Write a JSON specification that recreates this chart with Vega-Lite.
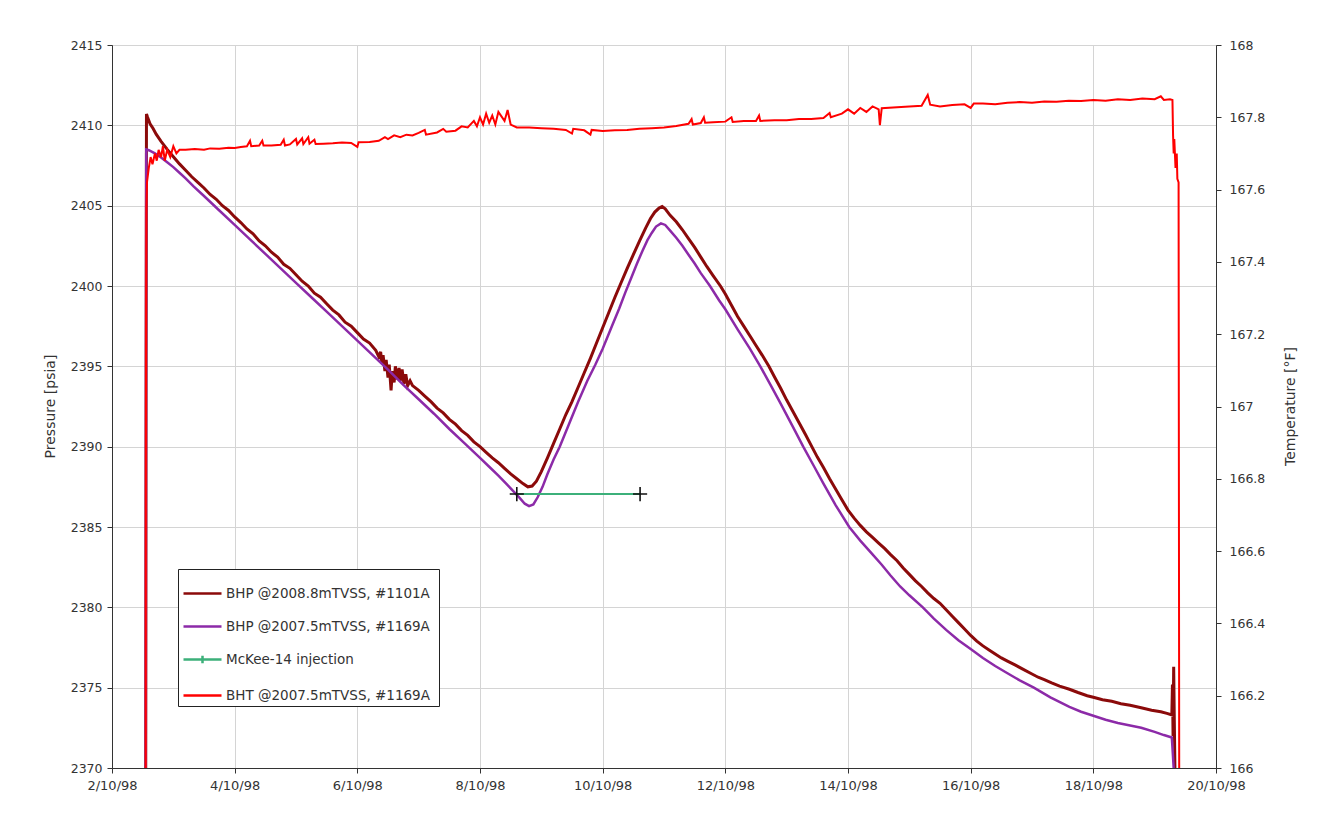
{
  "$schema": "https://vega.github.io/schema/vega-lite/v6.json",
  "width": 1104,
  "height": 723,
  "autosize": "none",
  "padding": {"left": 112, "top": 45, "right": 109, "bottom": 69},
  "background": "white",
  "config": {"view": {"stroke": "#7a7a7a", "strokeWidth": 1}, "font": "DejaVu Sans"},
  "datasets": {
    "press": [
      {"day":0.55,"pressure":2370,"series":"BHP  @2008.8mTVSS, #1101A"},
      {"day":0.556,"pressure":2395,"series":"BHP  @2008.8mTVSS, #1101A"},
      {"day":0.562,"pressure":2410.7,"series":"BHP  @2008.8mTVSS, #1101A"},
      {"day":0.58,"pressure":2410.5,"series":"BHP  @2008.8mTVSS, #1101A"},
      {"day":0.62,"pressure":2410.1,"series":"BHP  @2008.8mTVSS, #1101A"},
      {"day":0.67,"pressure":2409.8,"series":"BHP  @2008.8mTVSS, #1101A"},
      {"day":0.72,"pressure":2409.45,"series":"BHP  @2008.8mTVSS, #1101A"},
      {"day":0.8,"pressure":2409.0,"series":"BHP  @2008.8mTVSS, #1101A"},
      {"day":0.9,"pressure":2408.5,"series":"BHP  @2008.8mTVSS, #1101A"},
      {"day":1.0,"pressure":2408.05,"series":"BHP  @2008.8mTVSS, #1101A"},
      {"day":1.1,"pressure":2407.6,"series":"BHP  @2008.8mTVSS, #1101A"},
      {"day":1.2,"pressure":2407.2,"series":"BHP  @2008.8mTVSS, #1101A"},
      {"day":1.3,"pressure":2406.8,"series":"BHP  @2008.8mTVSS, #1101A"},
      {"day":1.4,"pressure":2406.45,"series":"BHP  @2008.8mTVSS, #1101A"},
      {"day":1.5,"pressure":2406.1,"series":"BHP  @2008.8mTVSS, #1101A"},
      {"day":1.6,"pressure":2405.7,"series":"BHP  @2008.8mTVSS, #1101A"},
      {"day":1.7,"pressure":2405.4,"series":"BHP  @2008.8mTVSS, #1101A"},
      {"day":1.8,"pressure":2405.0,"series":"BHP  @2008.8mTVSS, #1101A"},
      {"day":1.9,"pressure":2404.7,"series":"BHP  @2008.8mTVSS, #1101A"},
      {"day":2.0,"pressure":2404.3,"series":"BHP  @2008.8mTVSS, #1101A"},
      {"day":2.1,"pressure":2403.95,"series":"BHP  @2008.8mTVSS, #1101A"},
      {"day":2.2,"pressure":2403.55,"series":"BHP  @2008.8mTVSS, #1101A"},
      {"day":2.3,"pressure":2403.25,"series":"BHP  @2008.8mTVSS, #1101A"},
      {"day":2.4,"pressure":2402.8,"series":"BHP  @2008.8mTVSS, #1101A"},
      {"day":2.5,"pressure":2402.5,"series":"BHP  @2008.8mTVSS, #1101A"},
      {"day":2.6,"pressure":2402.1,"series":"BHP  @2008.8mTVSS, #1101A"},
      {"day":2.7,"pressure":2401.8,"series":"BHP  @2008.8mTVSS, #1101A"},
      {"day":2.8,"pressure":2401.35,"series":"BHP  @2008.8mTVSS, #1101A"},
      {"day":2.9,"pressure":2401.1,"series":"BHP  @2008.8mTVSS, #1101A"},
      {"day":3.0,"pressure":2400.7,"series":"BHP  @2008.8mTVSS, #1101A"},
      {"day":3.1,"pressure":2400.3,"series":"BHP  @2008.8mTVSS, #1101A"},
      {"day":3.2,"pressure":2400.0,"series":"BHP  @2008.8mTVSS, #1101A"},
      {"day":3.3,"pressure":2399.55,"series":"BHP  @2008.8mTVSS, #1101A"},
      {"day":3.4,"pressure":2399.3,"series":"BHP  @2008.8mTVSS, #1101A"},
      {"day":3.5,"pressure":2398.9,"series":"BHP  @2008.8mTVSS, #1101A"},
      {"day":3.6,"pressure":2398.5,"series":"BHP  @2008.8mTVSS, #1101A"},
      {"day":3.7,"pressure":2398.2,"series":"BHP  @2008.8mTVSS, #1101A"},
      {"day":3.8,"pressure":2397.75,"series":"BHP  @2008.8mTVSS, #1101A"},
      {"day":3.9,"pressure":2397.5,"series":"BHP  @2008.8mTVSS, #1101A"},
      {"day":4.0,"pressure":2397.1,"series":"BHP  @2008.8mTVSS, #1101A"},
      {"day":4.1,"pressure":2396.7,"series":"BHP  @2008.8mTVSS, #1101A"},
      {"day":4.2,"pressure":2396.45,"series":"BHP  @2008.8mTVSS, #1101A"},
      {"day":4.3,"pressure":2396.0,"series":"BHP  @2008.8mTVSS, #1101A"},
      {"day":4.35,"pressure":2395.6,"series":"BHP  @2008.8mTVSS, #1101A"},
      {"day":4.38,"pressure":2395.9,"series":"BHP  @2008.8mTVSS, #1101A"},
      {"day":4.4,"pressure":2395.2,"series":"BHP  @2008.8mTVSS, #1101A"},
      {"day":4.42,"pressure":2395.7,"series":"BHP  @2008.8mTVSS, #1101A"},
      {"day":4.45,"pressure":2394.7,"series":"BHP  @2008.8mTVSS, #1101A"},
      {"day":4.47,"pressure":2395.4,"series":"BHP  @2008.8mTVSS, #1101A"},
      {"day":4.5,"pressure":2394.3,"series":"BHP  @2008.8mTVSS, #1101A"},
      {"day":4.52,"pressure":2395.1,"series":"BHP  @2008.8mTVSS, #1101A"},
      {"day":4.55,"pressure":2393.5,"series":"BHP  @2008.8mTVSS, #1101A"},
      {"day":4.57,"pressure":2394.7,"series":"BHP  @2008.8mTVSS, #1101A"},
      {"day":4.6,"pressure":2394.0,"series":"BHP  @2008.8mTVSS, #1101A"},
      {"day":4.62,"pressure":2395.0,"series":"BHP  @2008.8mTVSS, #1101A"},
      {"day":4.65,"pressure":2394.2,"series":"BHP  @2008.8mTVSS, #1101A"},
      {"day":4.68,"pressure":2394.9,"series":"BHP  @2008.8mTVSS, #1101A"},
      {"day":4.7,"pressure":2394.1,"series":"BHP  @2008.8mTVSS, #1101A"},
      {"day":4.73,"pressure":2394.8,"series":"BHP  @2008.8mTVSS, #1101A"},
      {"day":4.76,"pressure":2393.9,"series":"BHP  @2008.8mTVSS, #1101A"},
      {"day":4.79,"pressure":2394.5,"series":"BHP  @2008.8mTVSS, #1101A"},
      {"day":4.82,"pressure":2393.8,"series":"BHP  @2008.8mTVSS, #1101A"},
      {"day":4.86,"pressure":2394.1,"series":"BHP  @2008.8mTVSS, #1101A"},
      {"day":4.9,"pressure":2393.8,"series":"BHP  @2008.8mTVSS, #1101A"},
      {"day":5.0,"pressure":2393.5,"series":"BHP  @2008.8mTVSS, #1101A"},
      {"day":5.1,"pressure":2393.15,"series":"BHP  @2008.8mTVSS, #1101A"},
      {"day":5.2,"pressure":2392.8,"series":"BHP  @2008.8mTVSS, #1101A"},
      {"day":5.3,"pressure":2392.4,"series":"BHP  @2008.8mTVSS, #1101A"},
      {"day":5.4,"pressure":2392.1,"series":"BHP  @2008.8mTVSS, #1101A"},
      {"day":5.5,"pressure":2391.7,"series":"BHP  @2008.8mTVSS, #1101A"},
      {"day":5.6,"pressure":2391.4,"series":"BHP  @2008.8mTVSS, #1101A"},
      {"day":5.7,"pressure":2391.0,"series":"BHP  @2008.8mTVSS, #1101A"},
      {"day":5.8,"pressure":2390.7,"series":"BHP  @2008.8mTVSS, #1101A"},
      {"day":5.9,"pressure":2390.3,"series":"BHP  @2008.8mTVSS, #1101A"},
      {"day":6.0,"pressure":2390.0,"series":"BHP  @2008.8mTVSS, #1101A"},
      {"day":6.1,"pressure":2389.65,"series":"BHP  @2008.8mTVSS, #1101A"},
      {"day":6.2,"pressure":2389.3,"series":"BHP  @2008.8mTVSS, #1101A"},
      {"day":6.3,"pressure":2389.0,"series":"BHP  @2008.8mTVSS, #1101A"},
      {"day":6.4,"pressure":2388.65,"series":"BHP  @2008.8mTVSS, #1101A"},
      {"day":6.5,"pressure":2388.3,"series":"BHP  @2008.8mTVSS, #1101A"},
      {"day":6.6,"pressure":2388.0,"series":"BHP  @2008.8mTVSS, #1101A"},
      {"day":6.7,"pressure":2387.7,"series":"BHP  @2008.8mTVSS, #1101A"},
      {"day":6.78,"pressure":2387.5,"series":"BHP  @2008.8mTVSS, #1101A"},
      {"day":6.85,"pressure":2387.55,"series":"BHP  @2008.8mTVSS, #1101A"},
      {"day":6.92,"pressure":2387.85,"series":"BHP  @2008.8mTVSS, #1101A"},
      {"day":7.0,"pressure":2388.45,"series":"BHP  @2008.8mTVSS, #1101A"},
      {"day":7.1,"pressure":2389.3,"series":"BHP  @2008.8mTVSS, #1101A"},
      {"day":7.2,"pressure":2390.2,"series":"BHP  @2008.8mTVSS, #1101A"},
      {"day":7.3,"pressure":2391.1,"series":"BHP  @2008.8mTVSS, #1101A"},
      {"day":7.4,"pressure":2392.0,"series":"BHP  @2008.8mTVSS, #1101A"},
      {"day":7.5,"pressure":2392.8,"series":"BHP  @2008.8mTVSS, #1101A"},
      {"day":7.6,"pressure":2393.7,"series":"BHP  @2008.8mTVSS, #1101A"},
      {"day":7.7,"pressure":2394.6,"series":"BHP  @2008.8mTVSS, #1101A"},
      {"day":7.8,"pressure":2395.5,"series":"BHP  @2008.8mTVSS, #1101A"},
      {"day":7.9,"pressure":2396.45,"series":"BHP  @2008.8mTVSS, #1101A"},
      {"day":8.0,"pressure":2397.4,"series":"BHP  @2008.8mTVSS, #1101A"},
      {"day":8.1,"pressure":2398.35,"series":"BHP  @2008.8mTVSS, #1101A"},
      {"day":8.2,"pressure":2399.3,"series":"BHP  @2008.8mTVSS, #1101A"},
      {"day":8.3,"pressure":2400.2,"series":"BHP  @2008.8mTVSS, #1101A"},
      {"day":8.4,"pressure":2401.1,"series":"BHP  @2008.8mTVSS, #1101A"},
      {"day":8.5,"pressure":2401.95,"series":"BHP  @2008.8mTVSS, #1101A"},
      {"day":8.6,"pressure":2402.8,"series":"BHP  @2008.8mTVSS, #1101A"},
      {"day":8.7,"pressure":2403.6,"series":"BHP  @2008.8mTVSS, #1101A"},
      {"day":8.78,"pressure":2404.2,"series":"BHP  @2008.8mTVSS, #1101A"},
      {"day":8.85,"pressure":2404.6,"series":"BHP  @2008.8mTVSS, #1101A"},
      {"day":8.92,"pressure":2404.85,"series":"BHP  @2008.8mTVSS, #1101A"},
      {"day":8.97,"pressure":2404.95,"series":"BHP  @2008.8mTVSS, #1101A"},
      {"day":9.02,"pressure":2404.8,"series":"BHP  @2008.8mTVSS, #1101A"},
      {"day":9.1,"pressure":2404.4,"series":"BHP  @2008.8mTVSS, #1101A"},
      {"day":9.2,"pressure":2404.0,"series":"BHP  @2008.8mTVSS, #1101A"},
      {"day":9.3,"pressure":2403.5,"series":"BHP  @2008.8mTVSS, #1101A"},
      {"day":9.4,"pressure":2402.95,"series":"BHP  @2008.8mTVSS, #1101A"},
      {"day":9.5,"pressure":2402.4,"series":"BHP  @2008.8mTVSS, #1101A"},
      {"day":9.6,"pressure":2401.8,"series":"BHP  @2008.8mTVSS, #1101A"},
      {"day":9.7,"pressure":2401.2,"series":"BHP  @2008.8mTVSS, #1101A"},
      {"day":9.8,"pressure":2400.65,"series":"BHP  @2008.8mTVSS, #1101A"},
      {"day":9.92,"pressure":2400.0,"series":"BHP  @2008.8mTVSS, #1101A"},
      {"day":10.0,"pressure":2399.5,"series":"BHP  @2008.8mTVSS, #1101A"},
      {"day":10.1,"pressure":2398.8,"series":"BHP  @2008.8mTVSS, #1101A"},
      {"day":10.2,"pressure":2398.1,"series":"BHP  @2008.8mTVSS, #1101A"},
      {"day":10.3,"pressure":2397.5,"series":"BHP  @2008.8mTVSS, #1101A"},
      {"day":10.4,"pressure":2396.9,"series":"BHP  @2008.8mTVSS, #1101A"},
      {"day":10.5,"pressure":2396.3,"series":"BHP  @2008.8mTVSS, #1101A"},
      {"day":10.6,"pressure":2395.7,"series":"BHP  @2008.8mTVSS, #1101A"},
      {"day":10.71,"pressure":2395.0,"series":"BHP  @2008.8mTVSS, #1101A"},
      {"day":10.8,"pressure":2394.35,"series":"BHP  @2008.8mTVSS, #1101A"},
      {"day":10.9,"pressure":2393.65,"series":"BHP  @2008.8mTVSS, #1101A"},
      {"day":11.0,"pressure":2392.9,"series":"BHP  @2008.8mTVSS, #1101A"},
      {"day":11.1,"pressure":2392.2,"series":"BHP  @2008.8mTVSS, #1101A"},
      {"day":11.2,"pressure":2391.5,"series":"BHP  @2008.8mTVSS, #1101A"},
      {"day":11.3,"pressure":2390.8,"series":"BHP  @2008.8mTVSS, #1101A"},
      {"day":11.41,"pressure":2390.0,"series":"BHP  @2008.8mTVSS, #1101A"},
      {"day":11.5,"pressure":2389.35,"series":"BHP  @2008.8mTVSS, #1101A"},
      {"day":11.6,"pressure":2388.7,"series":"BHP  @2008.8mTVSS, #1101A"},
      {"day":11.7,"pressure":2388.0,"series":"BHP  @2008.8mTVSS, #1101A"},
      {"day":11.8,"pressure":2387.35,"series":"BHP  @2008.8mTVSS, #1101A"},
      {"day":11.9,"pressure":2386.7,"series":"BHP  @2008.8mTVSS, #1101A"},
      {"day":12.0,"pressure":2386.05,"series":"BHP  @2008.8mTVSS, #1101A"},
      {"day":12.1,"pressure":2385.55,"series":"BHP  @2008.8mTVSS, #1101A"},
      {"day":12.2,"pressure":2385.1,"series":"BHP  @2008.8mTVSS, #1101A"},
      {"day":12.3,"pressure":2384.7,"series":"BHP  @2008.8mTVSS, #1101A"},
      {"day":12.4,"pressure":2384.35,"series":"BHP  @2008.8mTVSS, #1101A"},
      {"day":12.5,"pressure":2384.0,"series":"BHP  @2008.8mTVSS, #1101A"},
      {"day":12.6,"pressure":2383.65,"series":"BHP  @2008.8mTVSS, #1101A"},
      {"day":12.69,"pressure":2383.3,"series":"BHP  @2008.8mTVSS, #1101A"},
      {"day":12.8,"pressure":2382.9,"series":"BHP  @2008.8mTVSS, #1101A"},
      {"day":12.9,"pressure":2382.45,"series":"BHP  @2008.8mTVSS, #1101A"},
      {"day":13.0,"pressure":2382.05,"series":"BHP  @2008.8mTVSS, #1101A"},
      {"day":13.1,"pressure":2381.65,"series":"BHP  @2008.8mTVSS, #1101A"},
      {"day":13.2,"pressure":2381.3,"series":"BHP  @2008.8mTVSS, #1101A"},
      {"day":13.3,"pressure":2380.9,"series":"BHP  @2008.8mTVSS, #1101A"},
      {"day":13.4,"pressure":2380.55,"series":"BHP  @2008.8mTVSS, #1101A"},
      {"day":13.5,"pressure":2380.25,"series":"BHP  @2008.8mTVSS, #1101A"},
      {"day":13.6,"pressure":2379.85,"series":"BHP  @2008.8mTVSS, #1101A"},
      {"day":13.7,"pressure":2379.45,"series":"BHP  @2008.8mTVSS, #1101A"},
      {"day":13.8,"pressure":2379.05,"series":"BHP  @2008.8mTVSS, #1101A"},
      {"day":13.9,"pressure":2378.65,"series":"BHP  @2008.8mTVSS, #1101A"},
      {"day":14.0,"pressure":2378.25,"series":"BHP  @2008.8mTVSS, #1101A"},
      {"day":14.1,"pressure":2377.9,"series":"BHP  @2008.8mTVSS, #1101A"},
      {"day":14.2,"pressure":2377.6,"series":"BHP  @2008.8mTVSS, #1101A"},
      {"day":14.3,"pressure":2377.35,"series":"BHP  @2008.8mTVSS, #1101A"},
      {"day":14.4,"pressure":2377.1,"series":"BHP  @2008.8mTVSS, #1101A"},
      {"day":14.5,"pressure":2376.85,"series":"BHP  @2008.8mTVSS, #1101A"},
      {"day":14.6,"pressure":2376.65,"series":"BHP  @2008.8mTVSS, #1101A"},
      {"day":14.73,"pressure":2376.4,"series":"BHP  @2008.8mTVSS, #1101A"},
      {"day":14.85,"pressure":2376.15,"series":"BHP  @2008.8mTVSS, #1101A"},
      {"day":15.0,"pressure":2375.85,"series":"BHP  @2008.8mTVSS, #1101A"},
      {"day":15.1,"pressure":2375.65,"series":"BHP  @2008.8mTVSS, #1101A"},
      {"day":15.2,"pressure":2375.5,"series":"BHP  @2008.8mTVSS, #1101A"},
      {"day":15.32,"pressure":2375.3,"series":"BHP  @2008.8mTVSS, #1101A"},
      {"day":15.45,"pressure":2375.1,"series":"BHP  @2008.8mTVSS, #1101A"},
      {"day":15.61,"pressure":2374.9,"series":"BHP  @2008.8mTVSS, #1101A"},
      {"day":15.75,"pressure":2374.7,"series":"BHP  @2008.8mTVSS, #1101A"},
      {"day":15.9,"pressure":2374.5,"series":"BHP  @2008.8mTVSS, #1101A"},
      {"day":16.0,"pressure":2374.4,"series":"BHP  @2008.8mTVSS, #1101A"},
      {"day":16.15,"pressure":2374.25,"series":"BHP  @2008.8mTVSS, #1101A"},
      {"day":16.3,"pressure":2374.15,"series":"BHP  @2008.8mTVSS, #1101A"},
      {"day":16.45,"pressure":2374.0,"series":"BHP  @2008.8mTVSS, #1101A"},
      {"day":16.6,"pressure":2373.9,"series":"BHP  @2008.8mTVSS, #1101A"},
      {"day":16.78,"pressure":2373.75,"series":"BHP  @2008.8mTVSS, #1101A"},
      {"day":16.95,"pressure":2373.6,"series":"BHP  @2008.8mTVSS, #1101A"},
      {"day":17.1,"pressure":2373.5,"series":"BHP  @2008.8mTVSS, #1101A"},
      {"day":17.2,"pressure":2373.4,"series":"BHP  @2008.8mTVSS, #1101A"},
      {"day":17.28,"pressure":2373.3,"series":"BHP  @2008.8mTVSS, #1101A"},
      {"day":17.29,"pressure":2375.2,"series":"BHP  @2008.8mTVSS, #1101A"},
      {"day":17.3,"pressure":2372.0,"series":"BHP  @2008.8mTVSS, #1101A"},
      {"day":17.31,"pressure":2376.3,"series":"BHP  @2008.8mTVSS, #1101A"},
      {"day":17.32,"pressure":2373.0,"series":"BHP  @2008.8mTVSS, #1101A"},
      {"day":17.33,"pressure":2370.0,"series":"BHP  @2008.8mTVSS, #1101A"},

      {"day":0.55,"pressure":2370,"series":"BHP  @2007.5mTVSS, #1169A"},
      {"day":0.558,"pressure":2408.5,"series":"BHP  @2007.5mTVSS, #1169A"},
      {"day":0.6,"pressure":2408.45,"series":"BHP  @2007.5mTVSS, #1169A"},
      {"day":0.7,"pressure":2408.25,"series":"BHP  @2007.5mTVSS, #1169A"},
      {"day":0.8,"pressure":2408.0,"series":"BHP  @2007.5mTVSS, #1169A"},
      {"day":0.9,"pressure":2407.7,"series":"BHP  @2007.5mTVSS, #1169A"},
      {"day":1.0,"pressure":2407.4,"series":"BHP  @2007.5mTVSS, #1169A"},
      {"day":1.1,"pressure":2407.05,"series":"BHP  @2007.5mTVSS, #1169A"},
      {"day":1.2,"pressure":2406.7,"series":"BHP  @2007.5mTVSS, #1169A"},
      {"day":1.33,"pressure":2406.2,"series":"BHP  @2007.5mTVSS, #1169A"},
      {"day":1.5,"pressure":2405.6,"series":"BHP  @2007.5mTVSS, #1169A"},
      {"day":1.75,"pressure":2404.7,"series":"BHP  @2007.5mTVSS, #1169A"},
      {"day":2.0,"pressure":2403.8,"series":"BHP  @2007.5mTVSS, #1169A"},
      {"day":2.25,"pressure":2402.9,"series":"BHP  @2007.5mTVSS, #1169A"},
      {"day":2.5,"pressure":2402.0,"series":"BHP  @2007.5mTVSS, #1169A"},
      {"day":2.75,"pressure":2401.1,"series":"BHP  @2007.5mTVSS, #1169A"},
      {"day":3.0,"pressure":2400.2,"series":"BHP  @2007.5mTVSS, #1169A"},
      {"day":3.25,"pressure":2399.3,"series":"BHP  @2007.5mTVSS, #1169A"},
      {"day":3.5,"pressure":2398.4,"series":"BHP  @2007.5mTVSS, #1169A"},
      {"day":3.75,"pressure":2397.5,"series":"BHP  @2007.5mTVSS, #1169A"},
      {"day":4.0,"pressure":2396.6,"series":"BHP  @2007.5mTVSS, #1169A"},
      {"day":4.25,"pressure":2395.7,"series":"BHP  @2007.5mTVSS, #1169A"},
      {"day":4.5,"pressure":2394.8,"series":"BHP  @2007.5mTVSS, #1169A"},
      {"day":4.75,"pressure":2393.85,"series":"BHP  @2007.5mTVSS, #1169A"},
      {"day":5.0,"pressure":2392.95,"series":"BHP  @2007.5mTVSS, #1169A"},
      {"day":5.25,"pressure":2392.05,"series":"BHP  @2007.5mTVSS, #1169A"},
      {"day":5.5,"pressure":2391.1,"series":"BHP  @2007.5mTVSS, #1169A"},
      {"day":5.75,"pressure":2390.2,"series":"BHP  @2007.5mTVSS, #1169A"},
      {"day":6.0,"pressure":2389.3,"series":"BHP  @2007.5mTVSS, #1169A"},
      {"day":6.15,"pressure":2388.75,"series":"BHP  @2007.5mTVSS, #1169A"},
      {"day":6.3,"pressure":2388.2,"series":"BHP  @2007.5mTVSS, #1169A"},
      {"day":6.45,"pressure":2387.6,"series":"BHP  @2007.5mTVSS, #1169A"},
      {"day":6.55,"pressure":2387.2,"series":"BHP  @2007.5mTVSS, #1169A"},
      {"day":6.65,"pressure":2386.8,"series":"BHP  @2007.5mTVSS, #1169A"},
      {"day":6.73,"pressure":2386.45,"series":"BHP  @2007.5mTVSS, #1169A"},
      {"day":6.8,"pressure":2386.3,"series":"BHP  @2007.5mTVSS, #1169A"},
      {"day":6.87,"pressure":2386.4,"series":"BHP  @2007.5mTVSS, #1169A"},
      {"day":6.94,"pressure":2386.85,"series":"BHP  @2007.5mTVSS, #1169A"},
      {"day":7.02,"pressure":2387.5,"series":"BHP  @2007.5mTVSS, #1169A"},
      {"day":7.1,"pressure":2388.3,"series":"BHP  @2007.5mTVSS, #1169A"},
      {"day":7.2,"pressure":2389.2,"series":"BHP  @2007.5mTVSS, #1169A"},
      {"day":7.3,"pressure":2390.0,"series":"BHP  @2007.5mTVSS, #1169A"},
      {"day":7.45,"pressure":2391.4,"series":"BHP  @2007.5mTVSS, #1169A"},
      {"day":7.6,"pressure":2392.8,"series":"BHP  @2007.5mTVSS, #1169A"},
      {"day":7.75,"pressure":2394.1,"series":"BHP  @2007.5mTVSS, #1169A"},
      {"day":7.88,"pressure":2395.1,"series":"BHP  @2007.5mTVSS, #1169A"},
      {"day":8.0,"pressure":2396.1,"series":"BHP  @2007.5mTVSS, #1169A"},
      {"day":8.15,"pressure":2397.5,"series":"BHP  @2007.5mTVSS, #1169A"},
      {"day":8.27,"pressure":2398.6,"series":"BHP  @2007.5mTVSS, #1169A"},
      {"day":8.37,"pressure":2399.6,"series":"BHP  @2007.5mTVSS, #1169A"},
      {"day":8.47,"pressure":2400.55,"series":"BHP  @2007.5mTVSS, #1169A"},
      {"day":8.56,"pressure":2401.4,"series":"BHP  @2007.5mTVSS, #1169A"},
      {"day":8.65,"pressure":2402.2,"series":"BHP  @2007.5mTVSS, #1169A"},
      {"day":8.73,"pressure":2402.85,"series":"BHP  @2007.5mTVSS, #1169A"},
      {"day":8.8,"pressure":2403.3,"series":"BHP  @2007.5mTVSS, #1169A"},
      {"day":8.87,"pressure":2403.7,"series":"BHP  @2007.5mTVSS, #1169A"},
      {"day":8.95,"pressure":2403.9,"series":"BHP  @2007.5mTVSS, #1169A"},
      {"day":9.02,"pressure":2403.8,"series":"BHP  @2007.5mTVSS, #1169A"},
      {"day":9.1,"pressure":2403.45,"series":"BHP  @2007.5mTVSS, #1169A"},
      {"day":9.2,"pressure":2403.0,"series":"BHP  @2007.5mTVSS, #1169A"},
      {"day":9.3,"pressure":2402.5,"series":"BHP  @2007.5mTVSS, #1169A"},
      {"day":9.4,"pressure":2401.95,"series":"BHP  @2007.5mTVSS, #1169A"},
      {"day":9.5,"pressure":2401.4,"series":"BHP  @2007.5mTVSS, #1169A"},
      {"day":9.6,"pressure":2400.8,"series":"BHP  @2007.5mTVSS, #1169A"},
      {"day":9.75,"pressure":2400.0,"series":"BHP  @2007.5mTVSS, #1169A"},
      {"day":9.9,"pressure":2399.1,"series":"BHP  @2007.5mTVSS, #1169A"},
      {"day":10.0,"pressure":2398.55,"series":"BHP  @2007.5mTVSS, #1169A"},
      {"day":10.2,"pressure":2397.3,"series":"BHP  @2007.5mTVSS, #1169A"},
      {"day":10.4,"pressure":2396.1,"series":"BHP  @2007.5mTVSS, #1169A"},
      {"day":10.57,"pressure":2395.0,"series":"BHP  @2007.5mTVSS, #1169A"},
      {"day":10.75,"pressure":2393.75,"series":"BHP  @2007.5mTVSS, #1169A"},
      {"day":10.9,"pressure":2392.7,"series":"BHP  @2007.5mTVSS, #1169A"},
      {"day":11.1,"pressure":2391.25,"series":"BHP  @2007.5mTVSS, #1169A"},
      {"day":11.27,"pressure":2390.0,"series":"BHP  @2007.5mTVSS, #1169A"},
      {"day":11.45,"pressure":2388.75,"series":"BHP  @2007.5mTVSS, #1169A"},
      {"day":11.6,"pressure":2387.7,"series":"BHP  @2007.5mTVSS, #1169A"},
      {"day":11.8,"pressure":2386.35,"series":"BHP  @2007.5mTVSS, #1169A"},
      {"day":12.02,"pressure":2385.0,"series":"BHP  @2007.5mTVSS, #1169A"},
      {"day":12.2,"pressure":2384.15,"series":"BHP  @2007.5mTVSS, #1169A"},
      {"day":12.4,"pressure":2383.3,"series":"BHP  @2007.5mTVSS, #1169A"},
      {"day":12.55,"pressure":2382.65,"series":"BHP  @2007.5mTVSS, #1169A"},
      {"day":12.69,"pressure":2382.0,"series":"BHP  @2007.5mTVSS, #1169A"},
      {"day":12.85,"pressure":2381.3,"series":"BHP  @2007.5mTVSS, #1169A"},
      {"day":13.0,"pressure":2380.75,"series":"BHP  @2007.5mTVSS, #1169A"},
      {"day":13.22,"pressure":2380.0,"series":"BHP  @2007.5mTVSS, #1169A"},
      {"day":13.4,"pressure":2379.3,"series":"BHP  @2007.5mTVSS, #1169A"},
      {"day":13.6,"pressure":2378.6,"series":"BHP  @2007.5mTVSS, #1169A"},
      {"day":13.8,"pressure":2377.95,"series":"BHP  @2007.5mTVSS, #1169A"},
      {"day":14.0,"pressure":2377.4,"series":"BHP  @2007.5mTVSS, #1169A"},
      {"day":14.2,"pressure":2376.85,"series":"BHP  @2007.5mTVSS, #1169A"},
      {"day":14.4,"pressure":2376.35,"series":"BHP  @2007.5mTVSS, #1169A"},
      {"day":14.6,"pressure":2375.9,"series":"BHP  @2007.5mTVSS, #1169A"},
      {"day":14.8,"pressure":2375.45,"series":"BHP  @2007.5mTVSS, #1169A"},
      {"day":15.03,"pressure":2375.0,"series":"BHP  @2007.5mTVSS, #1169A"},
      {"day":15.3,"pressure":2374.4,"series":"BHP  @2007.5mTVSS, #1169A"},
      {"day":15.61,"pressure":2373.8,"series":"BHP  @2007.5mTVSS, #1169A"},
      {"day":15.8,"pressure":2373.5,"series":"BHP  @2007.5mTVSS, #1169A"},
      {"day":16.0,"pressure":2373.25,"series":"BHP  @2007.5mTVSS, #1169A"},
      {"day":16.2,"pressure":2373.0,"series":"BHP  @2007.5mTVSS, #1169A"},
      {"day":16.4,"pressure":2372.8,"series":"BHP  @2007.5mTVSS, #1169A"},
      {"day":16.6,"pressure":2372.65,"series":"BHP  @2007.5mTVSS, #1169A"},
      {"day":16.78,"pressure":2372.5,"series":"BHP  @2007.5mTVSS, #1169A"},
      {"day":17.0,"pressure":2372.25,"series":"BHP  @2007.5mTVSS, #1169A"},
      {"day":17.15,"pressure":2372.05,"series":"BHP  @2007.5mTVSS, #1169A"},
      {"day":17.28,"pressure":2371.9,"series":"BHP  @2007.5mTVSS, #1169A"},
      {"day":17.31,"pressure":2370.0,"series":"BHP  @2007.5mTVSS, #1169A"},

      {"day":6.6,"pressure":2387.05,"series":"McKee-14 injection"},
      {"day":8.61,"pressure":2387.05,"series":"McKee-14 injection"}
    ],
    "temp": [
      {"day":0.55,"temperature":166.0,"series":"BHT  @2007.5mTVSS, #1169A"},
      {"day":0.552,"temperature":166.7,"series":"BHT  @2007.5mTVSS, #1169A"},
      {"day":0.556,"temperature":167.3,"series":"BHT  @2007.5mTVSS, #1169A"},
      {"day":0.56,"temperature":167.55,"series":"BHT  @2007.5mTVSS, #1169A"},
      {"day":0.57,"temperature":167.62,"series":"BHT  @2007.5mTVSS, #1169A"},
      {"day":0.6,"temperature":167.66,"series":"BHT  @2007.5mTVSS, #1169A"},
      {"day":0.63,"temperature":167.69,"series":"BHT  @2007.5mTVSS, #1169A"},
      {"day":0.66,"temperature":167.67,"series":"BHT  @2007.5mTVSS, #1169A"},
      {"day":0.7,"temperature":167.7,"series":"BHT  @2007.5mTVSS, #1169A"},
      {"day":0.73,"temperature":167.68,"series":"BHT  @2007.5mTVSS, #1169A"},
      {"day":0.76,"temperature":167.71,"series":"BHT  @2007.5mTVSS, #1169A"},
      {"day":0.8,"temperature":167.69,"series":"BHT  @2007.5mTVSS, #1169A"},
      {"day":0.83,"temperature":167.72,"series":"BHT  @2007.5mTVSS, #1169A"},
      {"day":0.86,"temperature":167.68,"series":"BHT  @2007.5mTVSS, #1169A"},
      {"day":0.9,"temperature":167.71,"series":"BHT  @2007.5mTVSS, #1169A"},
      {"day":0.95,"temperature":167.69,"series":"BHT  @2007.5mTVSS, #1169A"},
      {"day":1.0,"temperature":167.72,"series":"BHT  @2007.5mTVSS, #1169A"},
      {"day":1.05,"temperature":167.7,"series":"BHT  @2007.5mTVSS, #1169A"},
      {"day":1.1,"temperature":167.71,"series":"BHT  @2007.5mTVSS, #1169A"},
      {"day":1.2,"temperature":167.71,"series":"BHT  @2007.5mTVSS, #1169A"},
      {"day":1.35,"temperature":167.712,"series":"BHT  @2007.5mTVSS, #1169A"},
      {"day":1.5,"temperature":167.71,"series":"BHT  @2007.5mTVSS, #1169A"},
      {"day":1.6,"temperature":167.714,"series":"BHT  @2007.5mTVSS, #1169A"},
      {"day":1.75,"temperature":167.713,"series":"BHT  @2007.5mTVSS, #1169A"},
      {"day":1.9,"temperature":167.716,"series":"BHT  @2007.5mTVSS, #1169A"},
      {"day":2.0,"temperature":167.715,"series":"BHT  @2007.5mTVSS, #1169A"},
      {"day":2.1,"temperature":167.718,"series":"BHT  @2007.5mTVSS, #1169A"},
      {"day":2.2,"temperature":167.72,"series":"BHT  @2007.5mTVSS, #1169A"},
      {"day":2.25,"temperature":167.735,"series":"BHT  @2007.5mTVSS, #1169A"},
      {"day":2.27,"temperature":167.72,"series":"BHT  @2007.5mTVSS, #1169A"},
      {"day":2.4,"temperature":167.722,"series":"BHT  @2007.5mTVSS, #1169A"},
      {"day":2.45,"temperature":167.735,"series":"BHT  @2007.5mTVSS, #1169A"},
      {"day":2.47,"temperature":167.722,"series":"BHT  @2007.5mTVSS, #1169A"},
      {"day":2.6,"temperature":167.722,"series":"BHT  @2007.5mTVSS, #1169A"},
      {"day":2.75,"temperature":167.724,"series":"BHT  @2007.5mTVSS, #1169A"},
      {"day":2.8,"temperature":167.738,"series":"BHT  @2007.5mTVSS, #1169A"},
      {"day":2.82,"temperature":167.722,"series":"BHT  @2007.5mTVSS, #1169A"},
      {"day":2.9,"temperature":167.725,"series":"BHT  @2007.5mTVSS, #1169A"},
      {"day":3.0,"temperature":167.74,"series":"BHT  @2007.5mTVSS, #1169A"},
      {"day":3.02,"temperature":167.725,"series":"BHT  @2007.5mTVSS, #1169A"},
      {"day":3.1,"temperature":167.742,"series":"BHT  @2007.5mTVSS, #1169A"},
      {"day":3.12,"temperature":167.726,"series":"BHT  @2007.5mTVSS, #1169A"},
      {"day":3.2,"temperature":167.745,"series":"BHT  @2007.5mTVSS, #1169A"},
      {"day":3.22,"temperature":167.727,"series":"BHT  @2007.5mTVSS, #1169A"},
      {"day":3.3,"temperature":167.738,"series":"BHT  @2007.5mTVSS, #1169A"},
      {"day":3.32,"temperature":167.726,"series":"BHT  @2007.5mTVSS, #1169A"},
      {"day":3.45,"temperature":167.727,"series":"BHT  @2007.5mTVSS, #1169A"},
      {"day":3.6,"temperature":167.728,"series":"BHT  @2007.5mTVSS, #1169A"},
      {"day":3.75,"temperature":167.73,"series":"BHT  @2007.5mTVSS, #1169A"},
      {"day":3.9,"temperature":167.729,"series":"BHT  @2007.5mTVSS, #1169A"},
      {"day":4.0,"temperature":167.718,"series":"BHT  @2007.5mTVSS, #1169A"},
      {"day":4.02,"temperature":167.731,"series":"BHT  @2007.5mTVSS, #1169A"},
      {"day":4.2,"temperature":167.732,"series":"BHT  @2007.5mTVSS, #1169A"},
      {"day":4.35,"temperature":167.735,"series":"BHT  @2007.5mTVSS, #1169A"},
      {"day":4.45,"temperature":167.745,"series":"BHT  @2007.5mTVSS, #1169A"},
      {"day":4.5,"temperature":167.74,"series":"BHT  @2007.5mTVSS, #1169A"},
      {"day":4.6,"temperature":167.75,"series":"BHT  @2007.5mTVSS, #1169A"},
      {"day":4.7,"temperature":167.745,"series":"BHT  @2007.5mTVSS, #1169A"},
      {"day":4.8,"temperature":167.752,"series":"BHT  @2007.5mTVSS, #1169A"},
      {"day":4.9,"temperature":167.75,"series":"BHT  @2007.5mTVSS, #1169A"},
      {"day":5.0,"temperature":167.757,"series":"BHT  @2007.5mTVSS, #1169A"},
      {"day":5.1,"temperature":167.765,"series":"BHT  @2007.5mTVSS, #1169A"},
      {"day":5.12,"temperature":167.752,"series":"BHT  @2007.5mTVSS, #1169A"},
      {"day":5.3,"temperature":167.758,"series":"BHT  @2007.5mTVSS, #1169A"},
      {"day":5.4,"temperature":167.768,"series":"BHT  @2007.5mTVSS, #1169A"},
      {"day":5.45,"temperature":167.76,"series":"BHT  @2007.5mTVSS, #1169A"},
      {"day":5.6,"temperature":167.763,"series":"BHT  @2007.5mTVSS, #1169A"},
      {"day":5.7,"temperature":167.775,"series":"BHT  @2007.5mTVSS, #1169A"},
      {"day":5.8,"temperature":167.772,"series":"BHT  @2007.5mTVSS, #1169A"},
      {"day":5.9,"temperature":167.79,"series":"BHT  @2007.5mTVSS, #1169A"},
      {"day":5.95,"temperature":167.775,"series":"BHT  @2007.5mTVSS, #1169A"},
      {"day":6.0,"temperature":167.8,"series":"BHT  @2007.5mTVSS, #1169A"},
      {"day":6.05,"temperature":167.78,"series":"BHT  @2007.5mTVSS, #1169A"},
      {"day":6.1,"temperature":167.81,"series":"BHT  @2007.5mTVSS, #1169A"},
      {"day":6.15,"temperature":167.785,"series":"BHT  @2007.5mTVSS, #1169A"},
      {"day":6.2,"temperature":167.805,"series":"BHT  @2007.5mTVSS, #1169A"},
      {"day":6.25,"temperature":167.78,"series":"BHT  @2007.5mTVSS, #1169A"},
      {"day":6.3,"temperature":167.815,"series":"BHT  @2007.5mTVSS, #1169A"},
      {"day":6.4,"temperature":167.79,"series":"BHT  @2007.5mTVSS, #1169A"},
      {"day":6.45,"temperature":167.82,"series":"BHT  @2007.5mTVSS, #1169A"},
      {"day":6.5,"temperature":167.78,"series":"BHT  @2007.5mTVSS, #1169A"},
      {"day":6.6,"temperature":167.772,"series":"BHT  @2007.5mTVSS, #1169A"},
      {"day":6.8,"temperature":167.772,"series":"BHT  @2007.5mTVSS, #1169A"},
      {"day":7.0,"temperature":167.77,"series":"BHT  @2007.5mTVSS, #1169A"},
      {"day":7.2,"temperature":167.768,"series":"BHT  @2007.5mTVSS, #1169A"},
      {"day":7.4,"temperature":167.765,"series":"BHT  @2007.5mTVSS, #1169A"},
      {"day":7.5,"temperature":167.755,"series":"BHT  @2007.5mTVSS, #1169A"},
      {"day":7.52,"temperature":167.768,"series":"BHT  @2007.5mTVSS, #1169A"},
      {"day":7.7,"temperature":167.764,"series":"BHT  @2007.5mTVSS, #1169A"},
      {"day":7.8,"temperature":167.752,"series":"BHT  @2007.5mTVSS, #1169A"},
      {"day":7.82,"temperature":167.765,"series":"BHT  @2007.5mTVSS, #1169A"},
      {"day":8.0,"temperature":167.762,"series":"BHT  @2007.5mTVSS, #1169A"},
      {"day":8.2,"temperature":167.764,"series":"BHT  @2007.5mTVSS, #1169A"},
      {"day":8.4,"temperature":167.765,"series":"BHT  @2007.5mTVSS, #1169A"},
      {"day":8.6,"temperature":167.768,"series":"BHT  @2007.5mTVSS, #1169A"},
      {"day":8.8,"temperature":167.77,"series":"BHT  @2007.5mTVSS, #1169A"},
      {"day":9.0,"temperature":167.772,"series":"BHT  @2007.5mTVSS, #1169A"},
      {"day":9.2,"temperature":167.776,"series":"BHT  @2007.5mTVSS, #1169A"},
      {"day":9.4,"temperature":167.782,"series":"BHT  @2007.5mTVSS, #1169A"},
      {"day":9.45,"temperature":167.795,"series":"BHT  @2007.5mTVSS, #1169A"},
      {"day":9.47,"temperature":167.78,"series":"BHT  @2007.5mTVSS, #1169A"},
      {"day":9.6,"temperature":167.784,"series":"BHT  @2007.5mTVSS, #1169A"},
      {"day":9.65,"temperature":167.8,"series":"BHT  @2007.5mTVSS, #1169A"},
      {"day":9.67,"temperature":167.785,"series":"BHT  @2007.5mTVSS, #1169A"},
      {"day":9.8,"temperature":167.786,"series":"BHT  @2007.5mTVSS, #1169A"},
      {"day":10.0,"temperature":167.788,"series":"BHT  @2007.5mTVSS, #1169A"},
      {"day":10.1,"temperature":167.8,"series":"BHT  @2007.5mTVSS, #1169A"},
      {"day":10.12,"temperature":167.787,"series":"BHT  @2007.5mTVSS, #1169A"},
      {"day":10.3,"temperature":167.79,"series":"BHT  @2007.5mTVSS, #1169A"},
      {"day":10.5,"temperature":167.79,"series":"BHT  @2007.5mTVSS, #1169A"},
      {"day":10.55,"temperature":167.805,"series":"BHT  @2007.5mTVSS, #1169A"},
      {"day":10.57,"temperature":167.79,"series":"BHT  @2007.5mTVSS, #1169A"},
      {"day":10.8,"temperature":167.792,"series":"BHT  @2007.5mTVSS, #1169A"},
      {"day":11.0,"temperature":167.792,"series":"BHT  @2007.5mTVSS, #1169A"},
      {"day":11.2,"temperature":167.795,"series":"BHT  @2007.5mTVSS, #1169A"},
      {"day":11.4,"temperature":167.795,"series":"BHT  @2007.5mTVSS, #1169A"},
      {"day":11.6,"temperature":167.798,"series":"BHT  @2007.5mTVSS, #1169A"},
      {"day":11.7,"temperature":167.812,"series":"BHT  @2007.5mTVSS, #1169A"},
      {"day":11.72,"temperature":167.8,"series":"BHT  @2007.5mTVSS, #1169A"},
      {"day":11.9,"temperature":167.81,"series":"BHT  @2007.5mTVSS, #1169A"},
      {"day":12.0,"temperature":167.822,"series":"BHT  @2007.5mTVSS, #1169A"},
      {"day":12.1,"temperature":167.81,"series":"BHT  @2007.5mTVSS, #1169A"},
      {"day":12.2,"temperature":167.826,"series":"BHT  @2007.5mTVSS, #1169A"},
      {"day":12.3,"temperature":167.815,"series":"BHT  @2007.5mTVSS, #1169A"},
      {"day":12.4,"temperature":167.83,"series":"BHT  @2007.5mTVSS, #1169A"},
      {"day":12.5,"temperature":167.822,"series":"BHT  @2007.5mTVSS, #1169A"},
      {"day":12.52,"temperature":167.778,"series":"BHT  @2007.5mTVSS, #1169A"},
      {"day":12.55,"temperature":167.825,"series":"BHT  @2007.5mTVSS, #1169A"},
      {"day":12.8,"temperature":167.828,"series":"BHT  @2007.5mTVSS, #1169A"},
      {"day":13.0,"temperature":167.83,"series":"BHT  @2007.5mTVSS, #1169A"},
      {"day":13.2,"temperature":167.832,"series":"BHT  @2007.5mTVSS, #1169A"},
      {"day":13.3,"temperature":167.862,"series":"BHT  @2007.5mTVSS, #1169A"},
      {"day":13.34,"temperature":167.835,"series":"BHT  @2007.5mTVSS, #1169A"},
      {"day":13.5,"temperature":167.83,"series":"BHT  @2007.5mTVSS, #1169A"},
      {"day":13.7,"temperature":167.834,"series":"BHT  @2007.5mTVSS, #1169A"},
      {"day":13.9,"temperature":167.836,"series":"BHT  @2007.5mTVSS, #1169A"},
      {"day":14.0,"temperature":167.826,"series":"BHT  @2007.5mTVSS, #1169A"},
      {"day":14.05,"temperature":167.838,"series":"BHT  @2007.5mTVSS, #1169A"},
      {"day":14.2,"temperature":167.838,"series":"BHT  @2007.5mTVSS, #1169A"},
      {"day":14.4,"temperature":167.836,"series":"BHT  @2007.5mTVSS, #1169A"},
      {"day":14.6,"temperature":167.84,"series":"BHT  @2007.5mTVSS, #1169A"},
      {"day":14.8,"temperature":167.842,"series":"BHT  @2007.5mTVSS, #1169A"},
      {"day":15.0,"temperature":167.84,"series":"BHT  @2007.5mTVSS, #1169A"},
      {"day":15.2,"temperature":167.844,"series":"BHT  @2007.5mTVSS, #1169A"},
      {"day":15.4,"temperature":167.843,"series":"BHT  @2007.5mTVSS, #1169A"},
      {"day":15.6,"temperature":167.846,"series":"BHT  @2007.5mTVSS, #1169A"},
      {"day":15.8,"temperature":167.845,"series":"BHT  @2007.5mTVSS, #1169A"},
      {"day":16.0,"temperature":167.848,"series":"BHT  @2007.5mTVSS, #1169A"},
      {"day":16.2,"temperature":167.846,"series":"BHT  @2007.5mTVSS, #1169A"},
      {"day":16.4,"temperature":167.85,"series":"BHT  @2007.5mTVSS, #1169A"},
      {"day":16.6,"temperature":167.848,"series":"BHT  @2007.5mTVSS, #1169A"},
      {"day":16.8,"temperature":167.852,"series":"BHT  @2007.5mTVSS, #1169A"},
      {"day":17.0,"temperature":167.85,"series":"BHT  @2007.5mTVSS, #1169A"},
      {"day":17.1,"temperature":167.858,"series":"BHT  @2007.5mTVSS, #1169A"},
      {"day":17.15,"temperature":167.848,"series":"BHT  @2007.5mTVSS, #1169A"},
      {"day":17.25,"temperature":167.85,"series":"BHT  @2007.5mTVSS, #1169A"},
      {"day":17.29,"temperature":167.848,"series":"BHT  @2007.5mTVSS, #1169A"},
      {"day":17.3,"temperature":167.75,"series":"BHT  @2007.5mTVSS, #1169A"},
      {"day":17.31,"temperature":167.7,"series":"BHT  @2007.5mTVSS, #1169A"},
      {"day":17.32,"temperature":167.74,"series":"BHT  @2007.5mTVSS, #1169A"},
      {"day":17.34,"temperature":167.66,"series":"BHT  @2007.5mTVSS, #1169A"},
      {"day":17.36,"temperature":167.7,"series":"BHT  @2007.5mTVSS, #1169A"},
      {"day":17.37,"temperature":167.63,"series":"BHT  @2007.5mTVSS, #1169A"},
      {"day":17.39,"temperature":167.62,"series":"BHT  @2007.5mTVSS, #1169A"},
      {"day":17.4,"temperature":166.0,"series":"BHT  @2007.5mTVSS, #1169A"}
    ]
  },
  "encoding": {
    "x": {
      "field": "day",
      "type": "quantitative",
      "scale": {"domain": [0, 18], "nice": false, "zero": false},
      "axis": {
        "title": null,
        "values": [0, 2, 4, 6, 8, 10, 12, 14, 16, 18],
        "labelExpr": "(datum.value + 2) + '/10/98'",
        "grid": true,
        "gridColor": "#d4d4d4",
        "domainColor": "#333333",
        "tickColor": "#333333",
        "tickSize": 5,
        "labelPadding": 6,
        "labelFont": "DejaVu Sans",
        "labelFontSize": 13,
        "labelColor": "#333333",
        "labelFlush": false,
        "labelOverlap": false,
        "labelBound": false
      }
    }
  },
  "layer": [
    {
      "data": {"name": "press"},
      "layer": [
        {
          "mark": {"type": "line", "clip": true},
          "encoding": {
            "y": {
              "field": "pressure",
              "type": "quantitative",
              "scale": {"domain": [2370, 2415], "nice": false, "zero": false},
              "axis": {
                "orient": "left",
                "title": "Pressure [psia]",
                "values": [2370, 2375, 2380, 2385, 2390, 2395, 2400, 2405, 2410, 2415],
                "format": "d",
                "grid": true,
                "gridColor": "#d4d4d4",
                "domainColor": "#333333",
                "tickColor": "#333333",
                "tickSize": 5,
                "labelPadding": 5,
                "labelFont": "DejaVu Sans",
                "labelFontSize": 12.5,
                "labelColor": "#333333",
                "titleFont": "DejaVu Sans",
                "titleFontSize": 14,
                "titleFontWeight": "normal",
                "titleColor": "#333333",
                "titleAngle": -90,
                "titleX": -62,
                "titleY": 361,
                "titleAlign": "center",
                "titleBaseline": "middle",
                "labelOverlap": false
              }
            },
            "color": {
              "field": "series",
              "type": "nominal",
              "scale": {
                "domain": ["BHP  @2008.8mTVSS, #1101A", "BHP  @2007.5mTVSS, #1169A", "McKee-14 injection", "BHT  @2007.5mTVSS, #1169A"],
                "range": ["#8b0a0a", "#8c2aa8", "#3cb07a", "#ff0000"]
              },
              "legend": {
                "orient": "none",
                "legendX": 66,
                "legendY": 524,
                "title": null,
                "strokeColor": "#222222",
                "fillColor": "white",
                "padding": 4,
                "symbolType": "stroke",
                "symbolSize": 1444,
                "symbolStrokeWidth": 2.5,
                "rowPadding": 6,
                "labelFont": "DejaVu Sans",
                "labelFontSize": 13.5,
                "labelColor": "#333333",
                "labelOffset": 3,
                "labelLimit": 400,
                "encode": {
                  "symbols": {
                    "update": {
                      "shape": {"signal": "datum.value === 'McKee-14 injection' ? 'M-1,0H1M0,-0.2V0.2' : 'stroke'"}
                    }
                  }
                }
              }
            },
            "strokeWidth": {
              "field": "series",
              "type": "nominal",
              "scale": {
                "domain": ["BHP  @2008.8mTVSS, #1101A", "BHP  @2007.5mTVSS, #1169A", "McKee-14 injection"],
                "range": [3, 2, 2.5]
              },
              "legend": null
            }
          }
        },
        {
          "transform": [{"filter": "datum.series === 'McKee-14 injection'"}],
          "mark": {"type": "point", "shape": "M-1,0H1M0,-1V1", "filled": false, "stroke": "#111111", "strokeWidth": 1.6, "size": 200, "opacity": 1},
          "encoding": {
            "y": {"field": "pressure", "type": "quantitative"}
          }
        }
      ]
    },
    {
      "data": {"name": "temp"},
      "mark": {"type": "line", "strokeWidth": 2, "clip": true},
      "encoding": {
        "y": {
          "field": "temperature",
          "type": "quantitative",
          "scale": {"domain": [166, 168], "nice": false, "zero": false},
          "axis": {
            "orient": "right",
            "title": "Temperature [°F]",
            "values": [166, 166.2, 166.4, 166.6, 166.8, 167, 167.2, 167.4, 167.6, 167.8, 168],
            "format": ".1~f",
            "grid": false,
            "domainColor": "#333333",
            "tickColor": "#333333",
            "tickSize": 5,
            "labelPadding": 8,
            "labelFont": "DejaVu Sans",
            "labelFontSize": 12.5,
            "labelColor": "#333333",
            "titleFont": "DejaVu Sans",
            "titleFontSize": 14,
            "titleFontWeight": "normal",
            "titleColor": "#333333",
            "titleAngle": -90,
            "titleX": 74,
            "titleY": 361,
            "titleAlign": "center",
            "titleBaseline": "middle",
            "labelOverlap": false
          }
        },
        "color": {
          "field": "series",
          "type": "nominal",
          "scale": {
            "domain": ["BHP  @2008.8mTVSS, #1101A", "BHP  @2007.5mTVSS, #1169A", "McKee-14 injection", "BHT  @2007.5mTVSS, #1169A"],
            "range": ["#8b0a0a", "#8c2aa8", "#3cb07a", "#ff0000"]
          }
        }
      }
    }
  ],
  "resolve": {"scale": {"y": "independent"}}
}
